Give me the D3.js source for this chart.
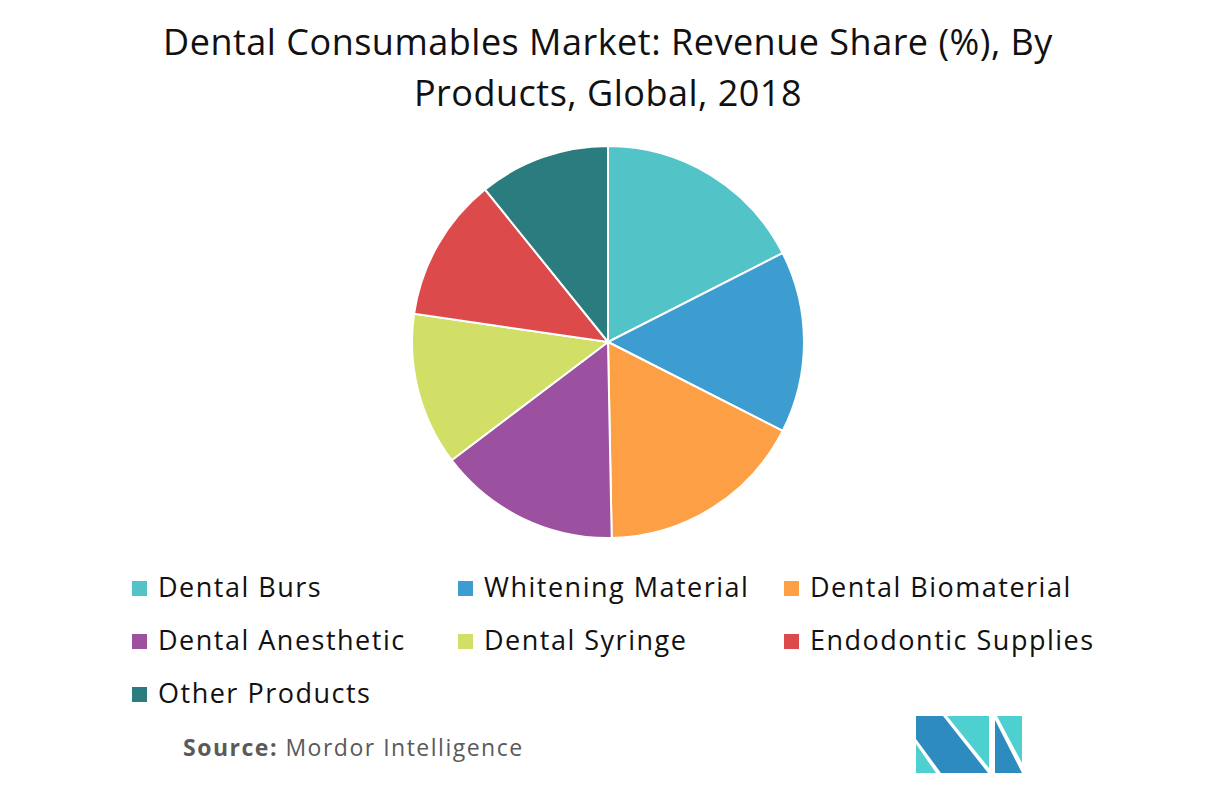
<!DOCTYPE html>
<html>
<head>
<meta charset="utf-8">
<script src="https://cdn.jsdelivr.net/npm/d3@7"></script>
<style>
  html, body { margin: 0; padding: 0; background: #ffffff; }
  svg { display: block; }
  text { font-family: "Open Sans", Lato, sans-serif; }
</style>
</head>
<body>
<svg id="chart" width="1216" height="786"></svg>
<script>
const categories = ["Dental Burs", "Whitening Material", "Dental Biomaterial", "Dental Anesthetic", "Dental Syringe", "Endodontic Supplies", "Other Products"];
const shares = [17.5, 15.0, 17.2, 15.0, 12.6, 11.9, 10.8];
const colors = ["#52c3c6", "#3d9dd0", "#fd9f45", "#9b519f", "#d1df67", "#dd4a4b", "#2a7c7f"];
const titleLines = ["Dental Consumables Market: Revenue Share (%), By", "Products, Global, 2018"];
const sourceLabel = "Source:";
const sourceText = " Mordor Intelligence";

const svg = d3.select("#chart");

// Title
svg.append("g").selectAll("text").data(titleLines).join("text")
  .attr("x", 608)
  .attr("y", (d, i) => 55 + i * 51)
  .attr("text-anchor", "middle")
  .attr("font-size", 36)
  .attr("letter-spacing", 0.5)
  .attr("fill", "#111")
  .text(d => d);

// Pie
const cx = 608, cy = 342, r = 196;
const pie = d3.pie().sort(null).value(d => d.v).startAngle(0).endAngle(2 * Math.PI);
const arc = d3.arc().innerRadius(0).outerRadius(r);
const data = categories.map((c, i) => ({ c, v: shares[i], col: colors[i] }));
svg.append("g").attr("transform", `translate(${cx},${cy})`)
  .selectAll("path").data(pie(data)).join("path")
  .attr("d", arc)
  .attr("fill", d => d.data.col)
  .attr("stroke", "#fff")
  .attr("stroke-width", 2);

// Legend
const colX = d3.scalePoint().domain([0, 1, 2]).range([132, 784]);
const rowY = d3.scalePoint().domain([0, 1, 2]).range([581, 687]);
const lg = svg.append("g").selectAll("g").data(data).join("g")
  .attr("transform", (d, i) => `translate(${colX(i % 3)},${rowY(Math.floor(i / 3))})`);
lg.append("rect").attr("width", 15).attr("height", 15).attr("fill", d => d.col);
lg.append("text").attr("x", 26).attr("y", 16).attr("font-size", 27)
  .attr("letter-spacing", 1.5).attr("fill", "#111").text(d => d.c);

// Source
const src = svg.append("text").attr("x", 183).attr("y", 756).attr("font-size", 23)
  .attr("letter-spacing", 1.5).attr("fill", "#5a5a5a");
src.append("tspan").attr("font-weight", "bold").text(sourceLabel);
src.append("tspan").text(sourceText);

// Logo
const dark = "#2e8bc0", light = "#4ecfd0";
const logo = svg.append("g");
const polys = [
  { p: [[916, 716], [943, 716], [988, 773], [941, 773], [916, 739]], c: dark },
  { p: [[916, 744], [916, 773], [936, 773]], c: light },
  { p: [[947, 716], [989, 716], [989, 768]], c: light },
  { p: [[995, 720], [995, 773], [1022, 773]], c: dark },
  { p: [[997, 716], [1022, 716], [1022, 763]], c: light }
];
logo.selectAll("polygon").data(polys).join("polygon")
  .attr("points", d => d.p.map(q => q.join(",")).join(" "))
  .attr("fill", d => d.c);
</script>
</body>
</html>
